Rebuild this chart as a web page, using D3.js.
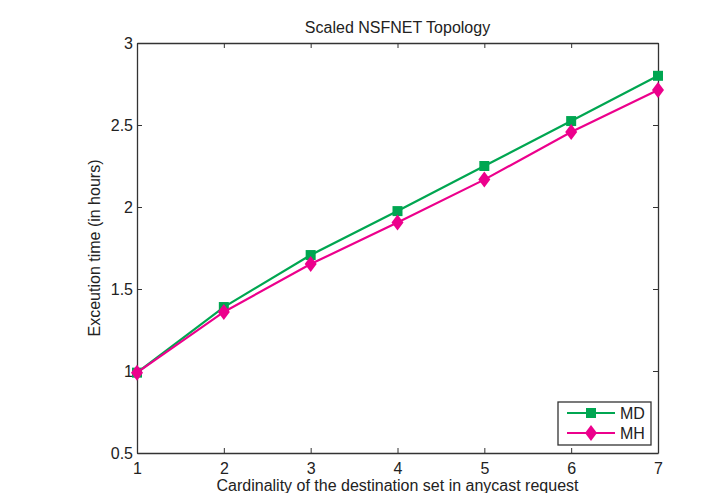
<!DOCTYPE html>
<html>
<head>
<meta charset="utf-8">
<script src="https://cdn.jsdelivr.net/npm/d3@7"></script>
<style>
  html, body { margin: 0; padding: 0; background: #fff; }
  svg text { font-family: 'Liberation Sans', Arial, Helvetica, sans-serif; fill: #222; }
</style>
</head>
<body>
<div id="chart"></div>
<script>
// Cardinality of destination set vs execution time
const cardinality = [1, 2, 3, 4, 5, 6, 7];
const mdTime = [0.99, 1.39, 1.707, 1.975, 2.25, 2.524, 2.80];
const mhTime = [0.99, 1.36, 1.652, 1.905, 2.167, 2.457, 2.713];
const xTicks = [1, 2, 3, 4, 5, 6, 7];
const yTicks = [0.5, 1, 1.5, 2, 2.5, 3];
const seriesNames = ['MD', 'MH'];

(function () {
  'use strict';
  const W = 705, H = 493;
  const margin = { top: 43, right: 47, bottom: 40, left: 137 };
  const innerW = W - margin.left - margin.right;
  const innerH = H - margin.top - margin.bottom;
  const GREEN = '#00a651', PINK = '#ec008c';
  const FS = '16px';

  const svg = d3.select('#chart').append('svg').attr('width', W).attr('height', H);
  const g = svg.append('g').attr('transform', `translate(${margin.left},${margin.top})`);

  const x = d3.scaleLinear().domain([1, 7]).range([0, innerW]);
  const y = d3.scaleLinear().domain([0.5, 3]).range([innerH, 0]);

  // axes, matlab style: ticks pointing inward on all four sides
  const fmt = d => String(d);
  const ax = g.append('g').attr('transform', `translate(0,${innerH})`)
    .call(d3.axisBottom(x).tickValues(xTicks).tickFormat(fmt).tickSizeInner(-5).tickSizeOuter(0).tickPadding(10));
  const ay = g.append('g')
    .call(d3.axisLeft(y).tickValues(yTicks).tickFormat(fmt).tickSizeInner(-5).tickSizeOuter(0).tickPadding(4));
  const at = g.append('g')
    .call(d3.axisTop(x).tickValues(xTicks).tickFormat('').tickSizeInner(-5).tickSizeOuter(0));
  const ar = g.append('g').attr('transform', `translate(${innerW},0)`)
    .call(d3.axisRight(y).tickValues(yTicks).tickFormat('').tickSizeInner(-5).tickSizeOuter(0));
  [ax, ay, at, ar].forEach(a => {
    a.select('.domain').attr('stroke', '#333').attr('stroke-width', 1.3);
    a.selectAll('.tick line').attr('stroke', '#333');
    a.selectAll('text').style('font-size', FS).style('fill', '#222');
  });

  const line = d3.line().x(d => x(d.c)).y(d => y(d.v));
  const md = cardinality.map((c, i) => ({ c, v: mdTime[i] }));
  const mh = cardinality.map((c, i) => ({ c, v: mhTime[i] }));

  g.append('path').datum(md).attr('fill', 'none').attr('stroke', GREEN).attr('stroke-width', 2.2).attr('d', line);
  g.selectAll('.sq').data(md).enter().append('rect')
    .attr('x', d => x(d.c) - 5).attr('y', d => y(d.v) - 5).attr('width', 10).attr('height', 10).attr('fill', GREEN);

  g.append('path').datum(mh).attr('fill', 'none').attr('stroke', PINK).attr('stroke-width', 2.2).attr('d', line);
  // matlab-ish diamond: ~12 wide, ~16 tall
  const diamondType = {
    draw(ctx) {
      ctx.moveTo(0, -8); ctx.lineTo(6, 0); ctx.lineTo(0, 8); ctx.lineTo(-6, 0); ctx.closePath();
    }
  };
  const diamond = d3.symbol().type(diamondType);
  g.selectAll('.dm').data(mh).enter().append('path')
    .attr('d', diamond).attr('transform', d => `translate(${x(d.c)},${y(d.v)})`).attr('fill', PINK);

  // legend
  const lg = g.append('g').attr('transform', `translate(${innerW - 100},${innerH - 51})`);
  lg.append('rect').attr('width', 93).attr('height', 43).attr('fill', '#fff').attr('stroke', '#333').attr('stroke-width', 1.3);
  [[GREEN, 'sq'], [PINK, 'dm']].forEach(([col, mk], i) => {
    const cy = 11 + i * 20;
    lg.append('line').attr('x1', 9).attr('x2', 57).attr('y1', cy).attr('y2', cy).attr('stroke', col).attr('stroke-width', 2.2);
    if (mk === 'sq') lg.append('rect').attr('x', 28).attr('y', cy - 5).attr('width', 10).attr('height', 10).attr('fill', col);
    else lg.append('path').attr('d', diamond).attr('transform', `translate(33,${cy})`).attr('fill', col);
    lg.append('text').attr('x', 62).attr('y', cy + 6).style('font-size', FS).text(seriesNames[i]);
  });

  // titles
  svg.append('text').attr('x', margin.left + innerW / 2).attr('y', 33).attr('text-anchor', 'middle')
    .style('font-size', FS).text('Scaled NSFNET Topology');
  svg.append('text').attr('x', margin.left + innerW / 2).attr('y', 491).attr('text-anchor', 'middle')
    .style('font-size', FS).text('Cardinality of the destination set in anycast request');
  svg.append('text').attr('transform', `translate(100,${margin.top + innerH / 2}) rotate(-90)`)
    .attr('text-anchor', 'middle').style('font-size', FS).text('Exceution time (in hours)');
})();
</script>
</body>
</html>
